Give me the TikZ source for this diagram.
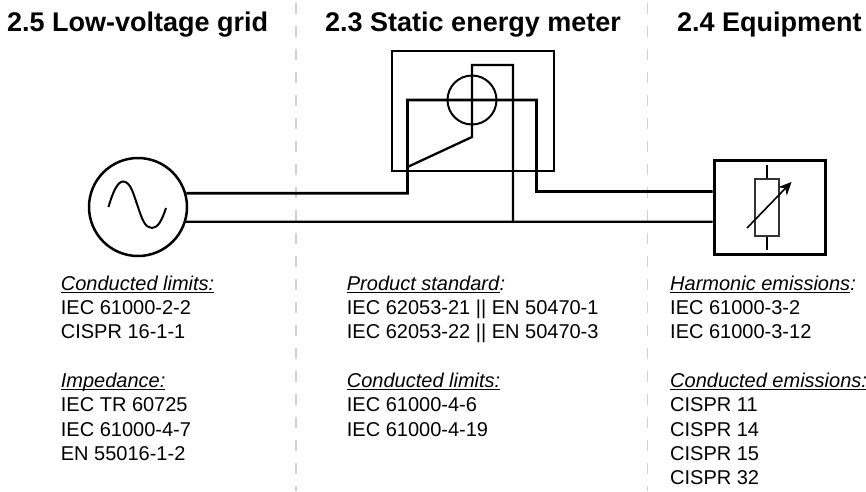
\documentclass[tikz,border=0pt]{standalone}
\usepackage{fontspec}
\setmainfont{Liberation Sans}
\usetikzlibrary{arrows.meta}
\definecolor{SplitGray}{HTML}{CFCFCF}
\newsavebox{\subheadbox}
\newcommand{\subhead}[1]{\sbox{\subheadbox}{\textit{#1}}\leavevmode\rlap{\rule[-2.8pt]{\wd\subheadbox}{1.3pt}}\usebox{\subheadbox}}

\begin{document}
\begin{tikzpicture}[x=1pt,y=-1pt,
        heading/.style={font=\fontsize{27}{32}\selectfont\bfseries,anchor=base west,inner sep=0pt},
        stdlist/.style={font=\fontsize{20}{24.3}\selectfont,anchor=north west,align=left,inner sep=0pt},
        split/.style={SplitGray,line width=1.5pt,dash pattern=on 11pt off 12pt},
        wire/.style={line width=2.8pt,line join=miter},
        thinwire/.style={line width=2.3pt,line join=miter},
        device/.style={draw,line width=2.8pt,minimum width=#1,inner sep=0pt}]
      \useasboundingbox (0,0) rectangle (866,491);
      \coordinate (s1top) at (296,3);
      \coordinate (s1end) at (296,491);
      \coordinate (s2top) at (647.7,3);
      \coordinate (s2end) at (647.7,491);
      \draw[split] (s1top)--(s1end);
      \draw[split] (s2top)--(s2end);

      \node[heading] (h1) at (7,31) {2.5 Low-voltage grid};
      \node[heading] (h2) at (325,31) {2.3 Static energy meter};
      \node[heading] (h3) at (677,31) {2.4 Equipment};

      % devices
      \node[device=98pt,circle,line width=2.5pt] (src) at (138,207) {};
      \node[device=162pt,minimum height=120pt,line width=2.4pt] (meter) at (472.8,110.8) {};
      \node[device=49pt,circle,line width=2pt] (coil) at (472,100) {};
      \node[device=111pt,minimum height=94pt,line width=3pt] (equip) at (769.5,207.7) {};
      \node[device=24.5pt,minimum height=57pt,line width=1.6pt,draw=black!80] (res) at (767,207.7) {};

      % sine in the source
      \draw[line width=2pt] (108.5,207) .. controls (113,191) and (118,181.5) .. (123,181.5)
        .. controls (131,181.5) and (134,196) .. (138,207)
        .. controls (142,219) and (145,228) .. (152,228)
        .. controls (158,228) and (162,220) .. (166,208);

      % wires
      \coordinate (w1) at (407.5,193.2);
      \coordinate (w2) at (407.5,100);
      \coordinate (w3) at (536.5,100);
      \coordinate (w4) at (536.5,191.5);
      \coordinate (n1) at (513,221.7);
      \coordinate (n2) at (513,65);
      \coordinate (n3) at (472,65);
      \coordinate (n4) at (472,137);
      \coordinate (n5) at (407.5,167);
      \draw[wire] (src.16)--(w1)--(w2)--(w3)--(w4)--(equip.west |- w4);
      \draw[thinwire] (src.-17)--(n1)--(equip.west |- n1);
      \draw[thinwire] (n1)--(n2)--(n3)--(n4)--(n5);

      % variable resistor
      \coordinate (r1) at (767,165);
      \coordinate (r2) at (767,250);
      \coordinate (a1) at (747,228);
      \coordinate (a2) at (791.5,182);
      \draw[line width=1.6pt] (r1)--(res.north);
      \draw[line width=1.6pt] (res.south)--(r2);
      \draw[-{Stealth[length=13pt,width=12pt]},line width=1.6pt] (a1)--(a2);

      \node[stdlist] (t1) at (60.7,275.5) {\subhead{Conducted limits:}\\IEC 61000-2-2\\CISPR 16-1-1\\[24.3pt]\subhead{Impedance:}\\IEC TR 60725\\IEC 61000-4-7\\EN 55016-1-2};
      \node[stdlist] (t2) at (346.7,275.5) {\subhead{Product standard}\textit{:}\\IEC 62053-21 || EN 50470-1\\IEC 62053-22 || EN 50470-3\\[24.3pt]\subhead{Conducted limits:}\\IEC 61000-4-6\\IEC 61000-4-19};
      \node[stdlist] (t3) at (670,275.5) {\subhead{Harmonic emissions}\textit{:}\\IEC 61000-3-2\\IEC 61000-3-12\\[24.3pt]\subhead{Conducted emissions:}\\CISPR 11\\CISPR 14\\CISPR 15\\CISPR 32};
    \end{tikzpicture}
\end{document}
